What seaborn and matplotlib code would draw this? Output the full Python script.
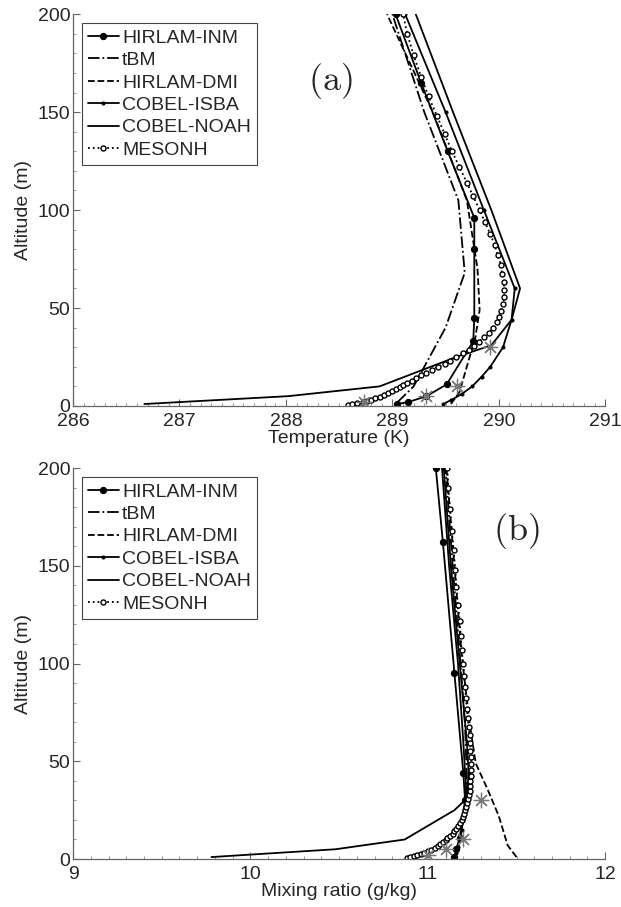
import numpy as np
import pandas as pd
import seaborn as sns
import matplotlib
matplotlib.use("Agg")
import matplotlib.pyplot as plt
from matplotlib.ticker import MultipleLocator

# ---------------- data ----------------
models = ["HIRLAM-INM", "tBM", "HIRLAM-DMI", "COBEL-ISBA", "COBEL-NOAH", "MESONH"]

# Panel (a): temperature (K)
alt_inm = [1, 2, 5, 11, 33, 45, 80, 96, 130, 165, 200]
t_inm = [289.04, 289.15, 289.32, 289.51, 289.76, 289.77, 289.77, 289.77, 289.52, 289.27, 289.03]

alt_tbm = [2, 10, 20, 40, 68, 105, 150, 200]
t_tbm = [289.05, 289.2, 289.3, 289.5, 289.68, 289.62, 289.3, 289.0]

alt_dmi = [1, 7, 22, 35, 49, 70, 105, 150, 200]
t_dmi = [289.55, 289.63, 289.71, 289.78, 289.82, 289.8, 289.7, 289.38, 288.95]

alt_isba = [1, 3, 6, 10, 15, 20, 30, 44, 60, 100, 150, 200]
t_isba = [289.48, 289.55, 289.65, 289.75, 289.84, 289.92, 290.04, 290.12, 290.15, 289.86, 289.5, 289.12]

alt_noah = [1, 5, 10, 25, 31, 44, 60, 100, 150, 200]
t_noah = [286.67, 288.02, 288.88, 289.6, 289.93, 290.12, 290.2, 289.93, 289.57, 289.22]

alt_meso = [0.5, 1, 1.5, 2, 2.6, 3.2, 4, 4.8, 5.6, 6.5,
            7.5, 8.5, 9.5, 10.6, 11.8, 13, 14.3, 15.6, 17, 18.5,
            20, 21.6, 23.2, 25, 26.8, 28.7, 30.7, 32.8, 35, 37.4,
            40, 42.7, 45.6, 48.7, 52, 55.5, 59.3, 63.3, 67.6, 72.2,
            77, 82.2, 87.8, 93.7, 100, 107, 114, 122, 130, 139,
            148, 158, 168, 179, 190, 200]
t_meso = [288.58, 288.62, 288.67, 288.72, 288.76, 288.8, 288.84, 288.88, 288.92, 288.96,
          289.0, 289.03, 289.07, 289.1, 289.14, 289.18, 289.22, 289.27, 289.32, 289.37,
          289.43, 289.49, 289.54, 289.6, 289.66, 289.72, 289.77, 289.81, 289.86, 289.91,
          289.95, 289.98, 290.0, 290.02, 290.04, 290.05, 290.05, 290.05, 290.03, 290.02,
          289.99, 289.96, 289.92, 289.87, 289.82, 289.76, 289.7, 289.63, 289.56, 289.49,
          289.42, 289.34, 289.27, 289.2, 289.14, 289.1]

alt_obs = [2, 5, 10, 30]
t_obs = [288.73, 289.32, 289.61, 289.92]

# Panel (b): mixing ratio (g/kg)
alt_inm_b = [1, 5, 11, 30, 44, 95, 162, 200]
q_inm = [11.15, 11.16, 11.18, 11.21, 11.2, 11.15, 11.085, 11.045]

alt_tbm_b = [2, 10, 20, 40, 68, 105, 150, 200]
q_tbm = [11.16, 11.18, 11.2, 11.22, 11.21, 11.18, 11.14, 11.1]

alt_dmi_b = [1, 7, 22, 35, 49, 70, 105, 150, 200]
q_dmi = [11.5, 11.45, 11.4, 11.34, 11.27, 11.235, 11.19, 11.15, 11.105]

alt_isba_b = [1, 3, 6, 10, 15, 20, 30, 44, 60, 100, 150, 200]
q_isba = [11.15, 11.16, 11.17, 11.18, 11.19, 11.2, 11.22, 11.23, 11.22, 11.18, 11.13, 11.09]

alt_noah_b = [1, 5, 10, 25, 31, 44, 60, 100, 150, 200]
q_noah = [9.78, 10.48, 10.87, 11.15, 11.22, 11.21, 11.2, 11.17, 11.12, 11.08]

q_meso = [10.88, 10.9, 10.92, 10.94, 10.96, 10.98, 11.0, 11.02, 11.04, 11.055,
          11.07, 11.085, 11.1, 11.11, 11.125, 11.14, 11.15, 11.16, 11.17, 11.18,
          11.19, 11.2, 11.205, 11.21, 11.215, 11.22, 11.225, 11.23, 11.235, 11.24,
          11.24, 11.245, 11.245, 11.245, 11.245, 11.24, 11.24, 11.235, 11.23, 11.225,
          11.22, 11.215, 11.21, 11.205, 11.2, 11.19, 11.185, 11.18, 11.17, 11.16,
          11.155, 11.145, 11.135, 11.125, 11.115, 11.11]

q_obs = [11.0, 11.1, 11.2, 11.3]

x_ticks_a = [286, 287, 288, 289, 290, 291]
x_ticks_b = [9, 10, 11, 12]
y_ticks = [0, 50, 100, 150, 200]

# ---------------- style ----------------
sns.set_style("ticks")
plt.rcParams["font.family"] = ["Liberation Sans", "DejaVu Sans"]
plt.rcParams["mathtext.fontset"] = "cm"

styles = {
    "HIRLAM-INM": dict(linestyle="-", marker="o", markersize=4.5, markerfacecolor="black",
                       markeredgecolor="black"),
    "tBM": dict(linestyle="-."),
    "HIRLAM-DMI": dict(linestyle="--"),
    "COBEL-ISBA": dict(linestyle="-", marker="o", markersize=2.2, markerfacecolor="black",
                       markeredgecolor="black"),
    "COBEL-NOAH": dict(linestyle="-"),
    "MESONH": dict(linestyle=":", marker="o", markersize=3.6, markerfacecolor="white",
                   markeredgecolor="black", markeredgewidth=1.0),
}

fig = plt.figure(figsize=(6.21, 9.07), dpi=100)
ax_a = fig.add_axes([0.1176, 0.5524, 0.857, 0.432])
ax_b = fig.add_axes([0.1176, 0.0529, 0.857, 0.431])


def draw(ax, series, obs_x, obs_alt, xlim, xticks, xlabel, tag, tag_xy):
    for name, (xv, av) in zip(models, series):
        df = pd.DataFrame({"x": xv, "alt": av})
        sns.lineplot(data=df, x="x", y="alt", sort=False, estimator=None, ax=ax,
                     color="black", linewidth=1.3, label=name, **styles[name])
    sns.scatterplot(x=obs_x, y=obs_alt, ax=ax, marker=(8, 2, 0), s=110,
                    color="#777777", edgecolor="#777777", linewidth=0.9, zorder=5)
    ax.set_xlim(*xlim)
    ax.set_ylim(0, 200)
    ax.set_xticks(xticks)
    ax.set_yticks(y_ticks)
    ax.xaxis.set_minor_locator(MultipleLocator(0.1))
    ax.yaxis.set_minor_locator(MultipleLocator(10))
    ax.tick_params(which="major", direction="in", length=5, width=0.8, color="#666666",
                   labelsize=14)
    ax.tick_params(axis="x", which="major", pad=5)
    ax.tick_params(axis="y", which="major", pad=2)
    ax.tick_params(which="minor", direction="in", length=2.5, width=0.6, color="#888888")
    for s in ["top", "right"]:
        ax.spines[s].set_visible(False)
    for s in ["left", "bottom"]:
        ax.spines[s].set_color("#666666")
        ax.spines[s].set_linewidth(0.9)
    ax.set_xlabel(xlabel, fontsize=14, labelpad=0)
    ax.set_ylabel("Altitude (m)", fontsize=14, labelpad=4)
    leg = ax.legend(loc="upper left", bbox_to_anchor=(0.017, 0.977), borderaxespad=0,
                    fontsize=14, handlelength=1.6, handletextpad=0.15, labelspacing=0.25,
                    borderpad=0.3, fancybox=False, framealpha=1, edgecolor="#444444")
    leg.get_frame().set_linewidth(0.8)
    ax.text(tag_xy[0], tag_xy[1], tag, fontsize=26, ha="center", va="center")


draw(ax_a,
     [(t_inm, alt_inm), (t_tbm, alt_tbm), (t_dmi, alt_dmi), (t_isba, alt_isba),
      (t_noah, alt_noah), (t_meso, alt_meso)],
     t_obs, alt_obs, (286, 291), x_ticks_a, "Temperature (K)", r"$\mathrm{(a)}$",
     (288.42, 166))

draw(ax_b,
     [(q_inm, alt_inm_b), (q_tbm, alt_tbm_b), (q_dmi, alt_dmi_b), (q_isba, alt_isba_b),
      (q_noah, alt_noah_b), (q_meso, alt_meso)],
     q_obs, alt_obs, (9, 12), x_ticks_b, "Mixing ratio (g/kg)", r"$\mathrm{(b)}$",
     (11.5, 168))

fig.savefig("out.png", dpi=100)
